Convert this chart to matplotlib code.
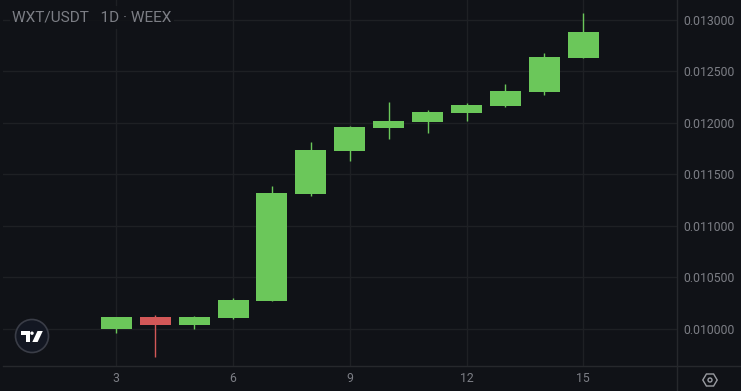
import matplotlib
matplotlib.use("Agg")
import matplotlib.pyplot as plt
from matplotlib.patches import Circle, Polygon, Rectangle

# candle data
days = [3, 4, 5, 6, 7, 8, 9, 10, 11, 12, 13, 14, 15]
opens = [0.009995, 0.010112, 0.010034, 0.010102, 0.010267, 0.011306, 0.011723,
         0.011947, 0.012005, 0.012092, 0.012160, 0.012296, 0.012626]
closes = [0.010112, 0.010034, 0.010112, 0.010277, 0.011316, 0.011733, 0.011956,
          0.012015, 0.012102, 0.012170, 0.012306, 0.012636, 0.012879]
highs = [0.010112, 0.010131, 0.010121, 0.010296, 0.011383, 0.011811, 0.011966,
         0.012199, 0.012121, 0.012189, 0.012374, 0.012675, 0.013063]
lows = [0.009956, 0.009723, 0.009995, 0.010092, 0.010267, 0.011286, 0.011626,
        0.011840, 0.011898, 0.012015, 0.012150, 0.012267, 0.012626]

x_ticks = [3, 6, 9, 12, 15]
y_ticks = [0.010, 0.0105, 0.011, 0.0115, 0.012, 0.0125, 0.013]
title = "WXT/USDT   1D \u00b7 WEEX"

BG = "#101217"
GRID = "#1e2024"
TEXT = "#7c7e85"
UP = "#6bc75a"
DOWN = "#d35858"

plt.rcParams["font.family"] = ["Roboto", "DejaVu Sans"]

W, H = 741, 391
fig = plt.figure(figsize=(W / 100, H / 100), dpi=100, facecolor=BG)

# plot area: 3..676 px across, 0..365 px down
ax = fig.add_axes([3 / W, (H - 365.5) / H, 673.5 / W, 365.5 / H], facecolor=BG)
ax.set_xlim(0.089, 17.394)
ax.set_ylim(0.009641, 0.013190)
ax.set_xticks(x_ticks)
ax.set_yticks(y_ticks)
ax.set_xticklabels([str(d) for d in x_ticks])
ax.set_yticklabels([f"{v:.6f}" for v in y_ticks])
ax.yaxis.tick_right()
ax.tick_params(length=0, colors=TEXT, labelsize=8.8)
ax.tick_params(axis="x", pad=5)
ax.tick_params(axis="y", pad=5)
ax.grid(True, color=GRID, linewidth=1)
ax.set_axisbelow(True)
for side in ["top", "left"]:
    ax.spines[side].set_visible(False)
for side in ["right", "bottom"]:
    ax.spines[side].set_color("#26282c")
    ax.spines[side].set_linewidth(1)

body_w = 0.797
for d, o, c, h, l in zip(days, opens, closes, highs, lows):
    col = UP if c >= o else DOWN
    ax.plot([d, d], [l, h], color=col, linewidth=1, solid_capstyle="butt", zorder=2)
    ax.bar(d, abs(c - o), bottom=min(o, c), width=body_w, color=col, linewidth=0, zorder=3)

# overlay in pixel coordinates for the title, logo and settings icon
ov = fig.add_axes([0, 0, 1, 1], facecolor="none")
ov.set_xlim(0, W)
ov.set_ylim(H, 0)
ov.axis("off")

# axis lines carry on past the plot area
ov.plot([676.5, W], [365.5, 365.5], color="#26282c", linewidth=1)
ov.plot([676.5, 676.5], [365.5, H], color="#26282c", linewidth=1)

ov.add_patch(Rectangle((10, 6), 164, 23, facecolor=BG, edgecolor="none", alpha=0.85))
ov.text(12, 18, title, color=TEXT, fontsize=11.1, va="center", ha="left")

# logo
ov.add_patch(Circle((32, 336), 16.5, facecolor="#131722", edgecolor="#3a3d47", linewidth=1.2))
ov.add_patch(Polygon([(21, 331), (30, 331), (30, 342), (25.5, 342), (25.5, 334.5), (21, 334.5)],
                     facecolor="white", edgecolor="none"))
ov.add_patch(Circle((32, 333.2), 1.7, facecolor="white", edgecolor="none"))
ov.add_patch(Polygon([(37.5, 331), (42.8, 331), (37.6, 342), (32.3, 342)],
                     facecolor="white", edgecolor="none"))

# settings icon
ov.add_patch(Polygon([(702.8, 380), (706.4, 374), (713.6, 374), (717.2, 380), (713.6, 386), (706.4, 386)],
                     closed=True, facecolor="none", edgecolor="#9a9ca2", linewidth=1))
ov.add_patch(Circle((710, 380), 2, facecolor="none", edgecolor="#9a9ca2", linewidth=1))

fig.savefig("out.png", dpi=100, facecolor=BG)
